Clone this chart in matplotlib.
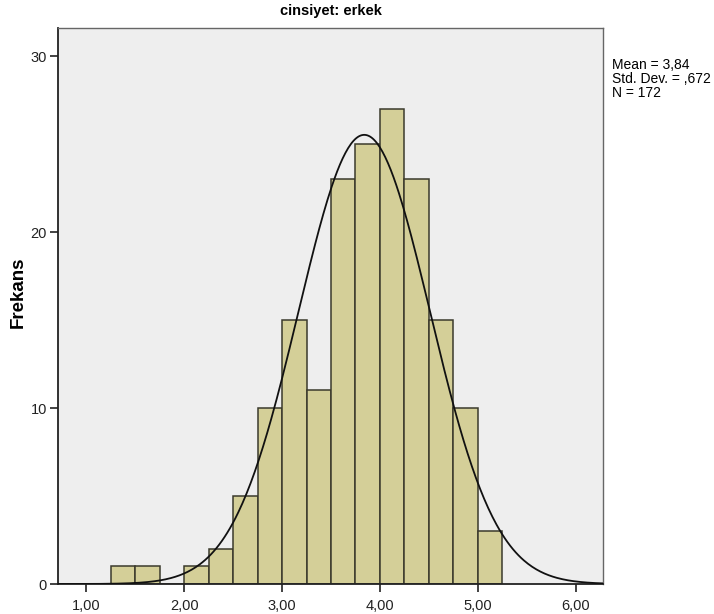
import numpy as np
import matplotlib.pyplot as plt

plt.rcParams['font.family'] = ['Liberation Sans', 'DejaVu Sans']

# bin edges and counts (bin width 0.25)
bin_left = [1.25, 1.50, 1.75, 2.00, 2.25, 2.50, 2.75, 3.00, 3.25, 3.50, 3.75, 4.00, 4.25, 4.50, 4.75, 5.00]
counts = [1, 1, 0, 1, 2, 5, 10, 15, 11, 23, 25, 27, 23, 15, 10, 3]
bin_width = 0.25

mean = 3.84
std = 0.672
n = 172

x_ticks = [1, 2, 3, 4, 5, 6]
x_labels = ["1,00", "2,00", "3,00", "4,00", "5,00", "6,00"]
y_ticks = [0, 10, 20, 30]

fig = plt.figure(figsize=(7.14, 6.14), dpi=100)
ax = fig.add_axes([58 / 714, 30 / 614, 545 / 714, 556 / 614])
ax.set_facecolor('#eeeeee')

ax.bar(bin_left, counts, width=bin_width, align='edge',
       color='#d4cf98', edgecolor='#3b3a2c', linewidth=1.1, zorder=2)

xs = np.linspace(0.70, 6.30, 400)
curve = n * bin_width / (std * np.sqrt(2 * np.pi)) * np.exp(-0.5 * ((xs - mean) / std) ** 2)
ax.plot(xs, curve, color='#111111', linewidth=1.3, zorder=3)

ax.set_xlim(0.71, 6.28)
ax.set_ylim(0, 31.6)
ax.set_xticks(x_ticks)
ax.set_xticklabels(x_labels)
ax.set_yticks(y_ticks)
ax.tick_params(direction='out', length=6, width=1.2, labelsize=10.5, colors='#222222')
ax.tick_params(axis='x', pad=5)
ax.tick_params(axis='y', pad=2)

for side in ['left', 'bottom']:
    ax.spines[side].set_color('#222222')
    ax.spines[side].set_linewidth(1.3)
for side in ['top', 'right']:
    ax.spines[side].set_color('#666666')
    ax.spines[side].set_linewidth(1.0)

ax.set_ylabel('Frekans', fontsize=13.5, fontweight='bold')
ax.yaxis.set_label_coords(-0.058, 0.525)
ax.set_title('cinsiyet: erkek', fontsize=10.5, fontweight='bold', pad=9)

fig.text(612 / 714, 1 - 58 / 614,
         'Mean = 3,84\nStd. Dev. = ,672\nN = 172',
         fontsize=10, va='top', ha='left', linespacing=1.0)

fig.savefig('out.png', dpi=100)
